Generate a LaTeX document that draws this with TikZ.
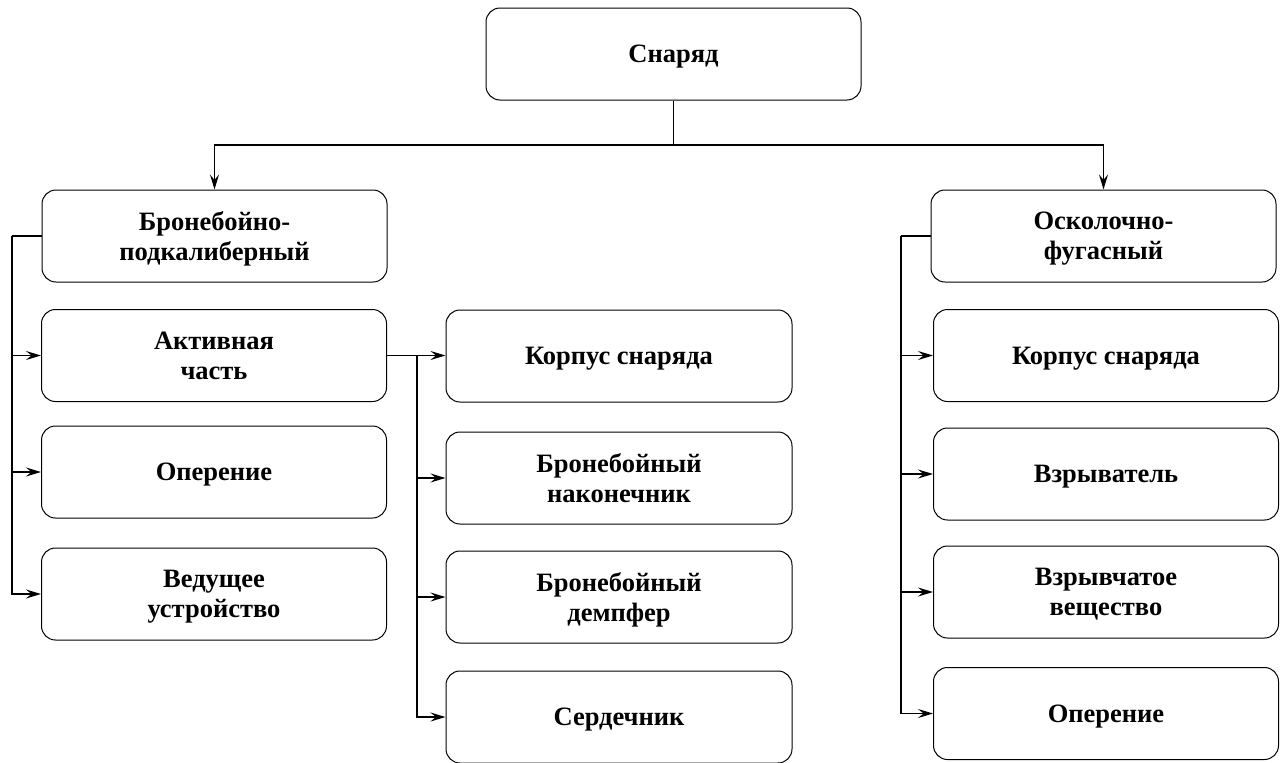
\documentclass[tikz,border=0pt]{standalone}
\usepackage{fontspec}
\setmainfont{Liberation Serif}[BoldFont={Liberation Serif Bold}]
\usetikzlibrary{arrows.meta,calc}

\tikzset{
	blok/.style={draw, rounded corners=14pt, line width=1pt, minimum width=345pt, minimum height=92pt, align=center, inner sep=2pt, text depth=0pt, font=\fontsize{26.5}{30}\selectfont\bfseries},
	liniya/.style={line width=1.7pt},
	strelka/.style={liniya, -{Stealth[length=15pt,width=9pt,inset=5.5pt]}}
}

\begin{document}
\begin{tikzpicture}[x=1pt,y=1pt,yscale=-1]
	\useasboundingbox (0,0) rectangle (1288,763);
	
	%Shape: top block
	\node [blok, minimum width=375pt] (snaryad) at (673.5,54) {Снаряд};
	
	%Shape: left column
	\node [blok] (bps) at (214.5,236) {Бронебойно-\\подкалиберный};
	\node [blok] (aktiv) at (214,355.5) {Активная\\часть};
	\node [blok] (operL) at (214,472) {Оперение};
	\node [blok] (vedush) at (214,594) {Ведущее\\устройство};
	
	%Shape: middle column
	\node [blok, minimum width=346pt] (korpusM) at (619,356) {Корпус снаряда};
	\node [blok, minimum width=346pt] (nakon) at (619,478) {Бронебойный\\наконечник};
	\node [blok, minimum width=346pt] (dempf) at (619,597) {Бронебойный\\демпфер};
	\node [blok, minimum width=346pt] (serd) at (619,717) {Сердечник};
	
	%Shape: right column
	\node [blok] (ofs) at (1103.5,236) {Осколочно-\\фугасный};
	\node [blok] (korpusR) at (1106,355.5) {Корпус снаряда};
	\node [blok] (vzryv) at (1106,474) {Взрыватель};
	\node [blok] (vv) at (1106,592) {Взрывчатое\\вещество};
	\node [blok] (operR) at (1106,713.5) {Оперение};
	
	%Straight Lines: from the top block
	\coordinate (razv) at (673.5,145);
	\draw [liniya, line width=1.3pt] (snaryad.south) -- (razv);
	\draw [strelka, line width=1.3pt] (razv) -| (bps.north);
	\draw [strelka, line width=1.3pt] (razv) -| (ofs.north);
	
	%Straight Lines: left trunk
	\coordinate (stvolL) at (12,236);
	\draw [liniya] (bps.west) -- (stvolL);
	\draw [strelka] (stvolL) |- (aktiv.west);
	\draw [strelka] (stvolL) |- (operL.west);
	\draw [strelka] (stvolL) |- (vedush.west);
	
	%Straight Lines: middle trunk
	\coordinate (stvolM) at (417,355.5);
	\draw [liniya] (aktiv.east) -- (stvolM);
	\draw [strelka] (stvolM) -- (stvolM -| korpusM.west);
	\draw [strelka] (stvolM) |- (nakon.west);
	\draw [strelka] (stvolM) |- (dempf.west);
	\draw [strelka] (stvolM) |- (serd.west);
	
	%Straight Lines: right trunk
	\coordinate (stvolR) at (901,236);
	\draw [liniya] (ofs.west) -- (stvolR);
	\draw [strelka] (stvolR) |- (korpusR.west);
	\draw [strelka] (stvolR) |- (vzryv.west);
	\draw [strelka] (stvolR) |- (vv.west);
	\draw [strelka] (stvolR) |- (operR.west);
	
\end{tikzpicture}
\end{document}
